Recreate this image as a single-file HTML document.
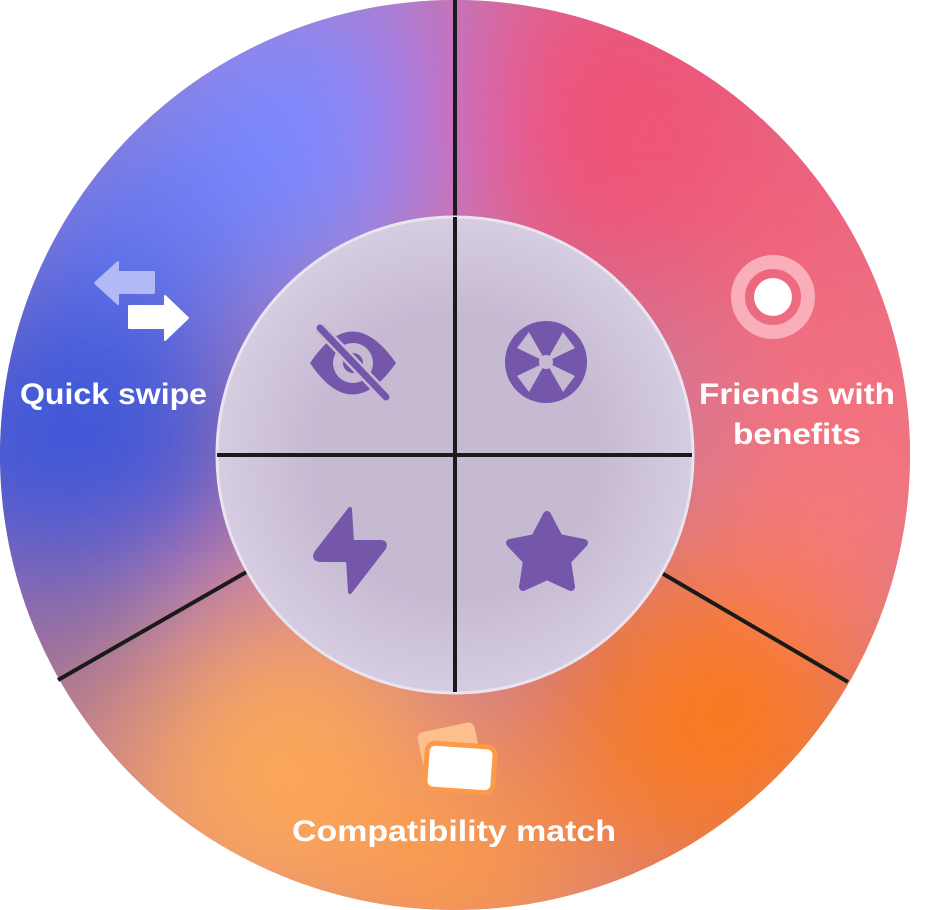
<!DOCTYPE html>
<html><head><meta charset="utf-8"><style>html,body{margin:0;padding:0;background:#fff;width:936px;height:910px;overflow:hidden}svg{display:block}</style></head>
<body>
<svg width="936" height="910" viewBox="0 0 936 910" xmlns="http://www.w3.org/2000/svg">
<defs>
<clipPath id="c"><circle cx="455" cy="455" r="455"/></clipPath>
<filter id="b" x="-50%" y="-50%" width="200%" height="200%"><feGaussianBlur stdDeviation="70"/></filter>
<radialGradient id="ig" cx="0.5" cy="0.5" r="0.5">
<stop offset="0.6" stop-color="#c6bad3"/><stop offset="1" stop-color="#d6cde2"/></radialGradient>
</defs>
<g clip-path="url(#c)">
<rect x="0" y="0" width="936" height="910" fill="#c87a9a"/>
<g filter="url(#b)">
<circle cx="420" cy="40" r="120" fill="#b07ac4"/>
<circle cx="280" cy="140" r="170" fill="#7f8aff"/>
<circle cx="120" cy="250" r="150" fill="#6a7cf0"/>
<circle cx="70" cy="450" r="180" fill="#3f58d8"/>
<circle cx="620" cy="120" r="180" fill="#ef5277"/>
<circle cx="820" cy="220" r="130" fill="#f0607a"/>
<circle cx="860" cy="420" r="170" fill="#f2707f"/>
<circle cx="820" cy="560" r="120" fill="#f47a80"/>
<circle cx="720" cy="720" r="170" fill="#f97a20"/>
<circle cx="280" cy="770" r="170" fill="#fca75a"/>
<circle cx="470" cy="880" r="120" fill="#fb9a48"/>
<circle cx="80" cy="650" r="90" fill="#927090"/>
</g>
</g>
<g stroke="#1a1a1a" stroke-width="4" stroke-linecap="butt">
<line x1="455" y1="0" x2="455" y2="220"/>
<line x1="58" y1="680" x2="250" y2="570"/>
<line x1="848" y1="682" x2="660" y2="572"/>
</g>
<circle cx="455" cy="455" r="238" fill="url(#ig)" stroke="#e9e4ef" stroke-width="3"/>
<g stroke="#1a1a1a" stroke-width="4">
<line x1="455" y1="217" x2="455" y2="692"/>
<line x1="217" y1="455" x2="692" y2="455"/>
</g>
<g fill="#7457ab">
<path d="M310 363 Q352 300 396 363 Q352 426 310 363 Z"/>
<circle cx="353" cy="363" r="20" fill="#c6bad3"/>
<circle cx="353" cy="363" r="10"/>
<line x1="320" y1="328" x2="386" y2="397" stroke="#c6bad3" stroke-width="12"/>
<line x1="320" y1="328" x2="386" y2="397" stroke="#7457ab" stroke-width="7" stroke-linecap="round"/>
</g>
<g>
<circle cx="546" cy="362" r="41" fill="#7457ab"/>
<g fill="#c6bad3">
<path d="M546 362 L517 348 L529 332 Z"/>
<path d="M546 362 L563 332 L575 348 Z"/>
<path d="M546 362 L575 376 L563 392 Z"/>
<path d="M546 362 L529 392 L517 376 Z"/>
<circle cx="546" cy="362" r="7"/>
</g>
</g>
<path d="M350 509 L316 553 Q313 559 320 560 L348 560 L350 592 L384 548 Q387 542 380 542 L352 542 Z" fill="#7457ab" stroke="#7457ab" stroke-width="4" stroke-linejoin="round"/>
<path d="M547 515 L559 538 L584 543 L567 561 L571 587 L547 576 L523 587 L527 561 L510 543 L535 538 Z" fill="#7457ab" stroke="#7457ab" stroke-width="8" stroke-linejoin="round"/>
<path d="M95 283 L118 262 L118 272 L154 272 L154 293 L118 293 L118 304 Z" fill="#b2b9f5" stroke="#b2b9f5" stroke-width="2" stroke-linejoin="round"/>
<path d="M188 318 L165 296 L165 306 L129 306 L129 328 L165 328 L165 340 Z" fill="#fff" stroke="#fff" stroke-width="2" stroke-linejoin="round"/>
<circle cx="773" cy="297" r="35" fill="none" stroke="#f9aeb9" stroke-width="14"/>
<circle cx="773" cy="297" r="19" fill="#fff"/>
<rect x="420" y="727" width="58" height="40" rx="6" fill="#fcc08e" transform="rotate(-12 449 747)"/>
<rect x="426" y="745" width="68" height="46" rx="8" fill="#fff" stroke="#fb9a48" stroke-width="5" transform="rotate(4 460 768)"/>
<g fill="#fff" font-family="Liberation Sans, sans-serif" font-weight="bold" font-size="30">
<text x="20" y="404" textLength="187" lengthAdjust="spacingAndGlyphs">Quick swipe</text>
<text x="797" y="404" text-anchor="middle" textLength="196" lengthAdjust="spacingAndGlyphs">Friends with</text>
<text x="797" y="444" text-anchor="middle" textLength="128" lengthAdjust="spacingAndGlyphs">benefits</text>
<text x="454" y="841" text-anchor="middle" textLength="324" lengthAdjust="spacingAndGlyphs">Compatibility match</text>
</g>
</svg>
</body></html>
